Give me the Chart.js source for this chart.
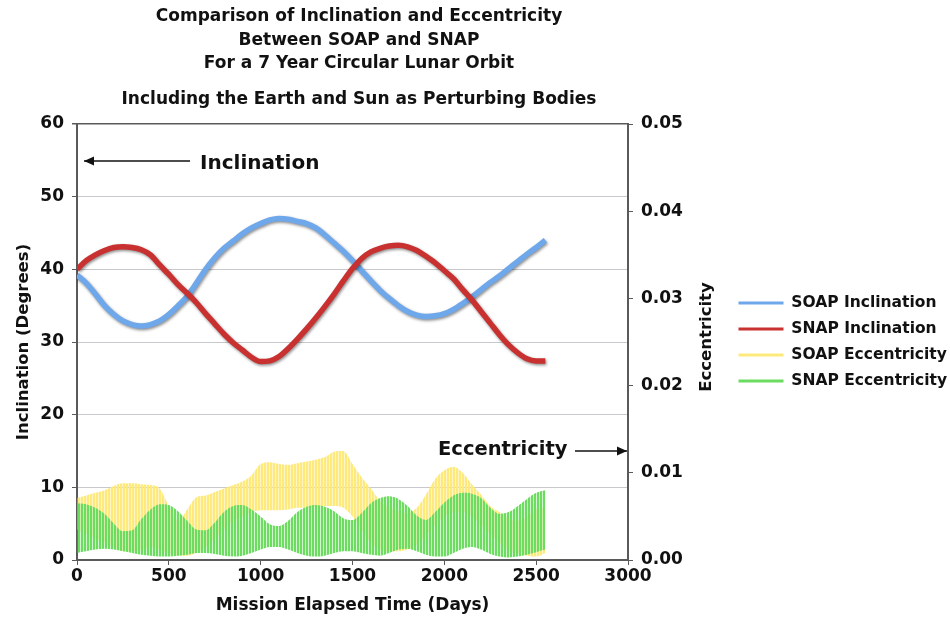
<!DOCTYPE html>
<html><head><meta charset="utf-8">
<script src="https://cdn.jsdelivr.net/npm/chart.js@4.4.1/dist/chart.umd.min.js"></script>
<style>html,body{margin:0;padding:0;background:#fff}canvas{display:block}</style>
</head><body>
<canvas id="c" width="950" height="633"></canvas>
<script>
// ---- data ----
const days = [0,50,100,150,200,250,300,350,400,450,500,550,600,650,700,750,800,850,900,950,1000,1050,1100,1150,1200,1250,1300,1350,1400,1450,1500,1550,1600,1650,1700,1750,1800,1850,1900,1950,2000,2050,2100,2150,2200,2250,2300,2350,2400,2450,2500,2550];
const soapInclination = [39.2,38.1,36.6,35.0,33.8,32.9,32.4,32.2,32.4,32.9,33.8,35.0,36.3,38.1,40.0,41.6,42.9,43.9,44.9,45.7,46.3,46.8,47.0,46.9,46.6,46.3,45.7,44.7,43.6,42.5,41.2,39.8,38.4,37.1,36.0,35.0,34.2,33.7,33.5,33.6,33.9,34.5,35.3,36.2,37.2,38.2,39.1,40.1,41.1,42.1,43.0,44.0];
const snapInclination = [40.0,41.2,42.0,42.6,43.0,43.1,43.0,42.7,42.0,40.6,39.3,37.9,36.7,35.4,33.9,32.5,31.1,29.9,28.9,27.9,27.3,27.4,28.0,29.1,30.4,31.8,33.3,34.9,36.6,38.4,40.1,41.5,42.4,42.9,43.2,43.3,43.1,42.6,41.8,40.9,39.8,38.7,37.2,35.8,34.2,32.6,31.0,29.6,28.5,27.7,27.4,27.4];
// eccentricity oscillates quickly: upper and lower envelopes of the oscillation
const soapEccHigh = [0.0071,0.0074,0.0077,0.0080,0.0085,0.0088,0.0088,0.0087,0.0086,0.0082,0.0062,0.0045,0.0058,0.0072,0.0074,0.0078,0.0082,0.0086,0.0090,0.0097,0.0110,0.0112,0.0110,0.0109,0.0111,0.0113,0.0115,0.0118,0.0124,0.0125,0.0110,0.0095,0.0082,0.0068,0.0060,0.0056,0.0054,0.0060,0.0075,0.0093,0.0103,0.0107,0.0100,0.0087,0.0075,0.0062,0.0055,0.0048,0.0045,0.0050,0.0058,0.0060];
const soapEccLow = [0.0035,0.0030,0.0025,0.0020,0.0015,0.0010,0.0010,0.0012,0.0015,0.0012,0.0008,0.0005,0.0005,0.0008,0.0015,0.0025,0.0035,0.0045,0.0050,0.0055,0.0057,0.0057,0.0057,0.0058,0.0060,0.0060,0.0061,0.0062,0.0062,0.0060,0.0050,0.0035,0.0020,0.0012,0.0010,0.0010,0.0012,0.0018,0.0028,0.0040,0.0050,0.0055,0.0055,0.0050,0.0040,0.0030,0.0020,0.0012,0.0008,0.0005,0.0004,0.0008];
const snapEccHigh = [0.0065,0.0064,0.0060,0.0053,0.0042,0.0033,0.0034,0.0047,0.0058,0.0064,0.0063,0.0056,0.0045,0.0035,0.0034,0.0043,0.0055,0.0062,0.0063,0.0058,0.0050,0.0041,0.0039,0.0045,0.0055,0.0061,0.0063,0.0061,0.0056,0.0048,0.0046,0.0054,0.0065,0.0071,0.0073,0.0070,0.0062,0.0051,0.0046,0.0055,0.0066,0.0074,0.0077,0.0076,0.0071,0.0060,0.0053,0.0055,0.0062,0.0070,0.0077,0.0080];
const snapEccLow = [0.0008,0.0010,0.0012,0.0013,0.0012,0.0010,0.0008,0.0006,0.0005,0.0004,0.0004,0.0005,0.0006,0.0008,0.0008,0.0007,0.0005,0.0004,0.0005,0.0008,0.0012,0.0015,0.0015,0.0012,0.0008,0.0005,0.0004,0.0005,0.0008,0.0010,0.0010,0.0008,0.0006,0.0005,0.0008,0.0012,0.0013,0.0010,0.0006,0.0004,0.0004,0.0008,0.0013,0.0015,0.0012,0.0007,0.0004,0.0003,0.0004,0.0006,0.0009,0.0012];

const seriesNames = ['SOAP Inclination','SNAP Inclination','SOAP Eccentricity','SNAP Eccentricity'];
const xTicks = [0,500,1000,1500,2000,2500,3000];
const inclTicks = [0,10,20,30,40,50,60];
const eccTicks = [0,0.01,0.02,0.03,0.04,0.05];
const eccTickLabels = ['0.00','0.01','0.02','0.03','0.04','0.05'];
const titleLines = ['Comparison of Inclination and Eccentricity','Between SOAP and SNAP','For a 7 Year Circular Lunar Orbit','Including the Earth and Sun as Perturbing Bodies'];
const xTitle = 'Mission Elapsed Time (Days)';
const yTitle = 'Inclination (Degrees)';
const y2Title = 'Eccentricity';
const noteIncl = 'Inclination';
const noteEcc = 'Eccentricity';

// ---- styles ----
const BLUE = '#6ea8ea', RED = '#c8312f', YELLOW = '#fde97c', GREEN = '#6bdc5f';
const FONT = '"DejaVu Sans", Verdana, sans-serif';
const canvas = document.getElementById('c');
const ctx0 = canvas.getContext('2d');
function stripes(solid, pale) {
  const p = document.createElement('canvas'); p.width = 3; p.height = 1;
  const g = p.getContext('2d');
  g.fillStyle = solid; g.fillRect(0, 0, 2, 1);
  g.fillStyle = pale; g.fillRect(2, 0, 1, 1);
  return ctx0.createPattern(p, 'repeat');
}
const yellowFill = stripes(YELLOW, 'rgba(253,233,124,0.45)');
const greenFill = stripes(GREEN, 'rgba(107,220,95,0.30)');

const pts = arr => days.map((d, i) => ({x: d, y: arr[i]}));
const CLEAR = 'rgba(0,0,0,0)';

const shadowPlugin = {
  id: 'shadow',
  beforeDatasetDraw(chart, args) {
    if (chart.data.datasets[args.index].shadow) {
      const c = chart.ctx; c.save();
      c.shadowColor = 'rgba(0,0,0,0.45)'; c.shadowBlur = 3; c.shadowOffsetX = 1; c.shadowOffsetY = 1.5;
    }
  },
  afterDatasetDraw(chart, args) {
    if (chart.data.datasets[args.index].shadow) chart.ctx.restore();
  }
};

function arrow(c, x1, x2, y, dir) {
  c.beginPath(); c.moveTo(x1, y); c.lineTo(x2, y); c.lineWidth = 1.3; c.strokeStyle = '#111'; c.stroke();
  const tip = dir < 0 ? Math.min(x1, x2) : Math.max(x1, x2);
  c.beginPath(); c.moveTo(tip, y); c.lineTo(tip - dir * 10, y - 4.5); c.lineTo(tip - dir * 10, y + 4.5); c.closePath();
  c.fillStyle = '#111'; c.fill();
}

const textPlugin = {
  id: 'texts',
  afterDraw(chart) {
    const c = chart.ctx; c.save();
    c.fillStyle = '#111'; c.textBaseline = 'middle';
    c.textAlign = 'center';
    c.font = 'bold 17px ' + FONT;
    const ty = [17, 41, 64, 100];
    titleLines.forEach((t, i) => c.fillText(t, 359, ty[i]));
    c.textAlign = 'left';
    c.font = 'bold 20px ' + FONT;
    c.fillText(noteIncl, 200, 164);
    arrow(c, 190, 84, 161, -1);
    c.font = 'bold 19.5px ' + FONT;
    c.fillStyle = '#111';
    c.fillText(noteEcc, 438, 450);
    arrow(c, 575, 627, 451, 1);
    c.save();
    c.translate(707, 337); c.rotate(-Math.PI / 2);
    c.textAlign = 'center'; c.fillStyle = '#111';
    c.font = 'bold 16.5px ' + FONT;
    c.fillText(y2Title, 0, 0);
    c.restore();
    c.restore();
  }
};

const AXIS = '#5a5a5a', GRID = '#c9c9cd';
const tickFont = {family: FONT, size: 17, weight: 'bold'};

new Chart(canvas, {
  type: 'line',
  data: {
    datasets: [
      {label: seriesNames[1], data: pts(snapInclination), yAxisID: 'y', borderColor: RED, borderWidth: 5.5, pointRadius: 0, cubicInterpolationMode: 'monotone', fill: false, order: 0, shadow: true},
      {label: seriesNames[0], data: pts(soapInclination), yAxisID: 'y', borderColor: BLUE, borderWidth: 5.5, pointRadius: 0, cubicInterpolationMode: 'monotone', fill: false, order: 1, shadow: true},
      {label: seriesNames[3], data: pts(snapEccHigh), yAxisID: 'y1', borderColor: CLEAR, borderWidth: 1, backgroundColor: greenFill, pointRadius: 0, cubicInterpolationMode: 'monotone', fill: '+1', order: 2},
      {label: seriesNames[3] + ' low', data: pts(snapEccLow), yAxisID: 'y1', borderColor: CLEAR, borderWidth: 1, pointRadius: 0, cubicInterpolationMode: 'monotone', fill: false, order: 2},
      {label: seriesNames[2], data: pts(soapEccHigh), yAxisID: 'y1', borderColor: CLEAR, borderWidth: 1, backgroundColor: yellowFill, pointRadius: 0, cubicInterpolationMode: 'monotone', fill: '+1', order: 3},
      {label: seriesNames[2] + ' low', data: pts(soapEccLow), yAxisID: 'y1', borderColor: CLEAR, borderWidth: 1, pointRadius: 0, cubicInterpolationMode: 'monotone', fill: false, order: 3}
    ]
  },
  options: {
    responsive: false,
    animation: false,
    devicePixelRatio: 1,
    layout: {padding: {left: 0, right: 0, top: 124, bottom: 13}},
    interaction: {mode: 'nearest', intersect: false},
    plugins: {
      tooltip: {enabled: false},
      title: {display: false},
      legend: {
        display: true, position: 'right', align: 'center', fullSize: false, maxWidth: 222,
        labels: {
          usePointStyle: true, pointStyleWidth: 45, padding: 10.5,
          font: {family: FONT, size: 15.5, weight: 'bold'}, color: '#111',
          generateLabels: () => seriesNames.map((t, i) => ({
            text: t, strokeStyle: [BLUE, RED, YELLOW, GREEN][i], fillStyle: [BLUE, RED, YELLOW, GREEN][i],
            lineWidth: 3, pointStyle: 'line', hidden: false, fontColor: '#111', datasetIndex: i
          }))
        }
      }
    },
    scales: {
      x: {
        type: 'linear', min: 0, max: 3000,
        afterFit: s => { s.height = 60; },
        afterBuildTicks: s => { s.ticks = xTicks.map(v => ({value: v})); },
        ticks: {font: tickFont, color: '#111', padding: 1, maxRotation: 0, callback: v => String(v)},
        grid: {drawOnChartArea: false, drawTicks: true, tickLength: 5, tickColor: AXIS},
        border: {display: true, color: AXIS, width: 2},
        title: {display: true, text: xTitle, color: '#111', font: {family: FONT, size: 17, weight: 'bold'}, padding: {top: 4, bottom: 4}}
      },
      y: {
        type: 'linear', position: 'left', min: 0, max: 60,
        afterFit: s => { s.width = 77; },
        afterBuildTicks: s => { s.ticks = inclTicks.map(v => ({value: v})); },
        ticks: {font: tickFont, color: '#111', padding: 8, callback: v => String(v)},
        grid: {
          drawOnChartArea: true, drawTicks: true, tickLength: 5, tickColor: AXIS,
          color: c => (c.tick && c.tick.value === 60) ? AXIS : GRID,
          lineWidth: c => (c.tick && c.tick.value === 60) ? 1.5 : 1
        },
        border: {display: true, color: AXIS, width: 2},
        title: {display: true, text: yTitle, color: '#111', font: {family: FONT, size: 16.5, weight: 'bold'}, padding: {top: 14, bottom: 4}}
      },
      y1: {
        type: 'linear', position: 'right', min: 0, max: 0.05,
        afterFit: s => { s.width = 100; },
        afterBuildTicks: s => { s.ticks = eccTicks.map(v => ({value: v})); },
        ticks: {font: tickFont, color: '#111', padding: 8, callback: (v, i) => eccTickLabels[i]},
        grid: {drawOnChartArea: false, drawTicks: true, tickLength: 5, tickColor: AXIS},
        border: {display: true, color: AXIS, width: 2},
        title: {display: false}
      }
    }
  },
  plugins: [shadowPlugin, textPlugin]
});
</script>
</body></html>
